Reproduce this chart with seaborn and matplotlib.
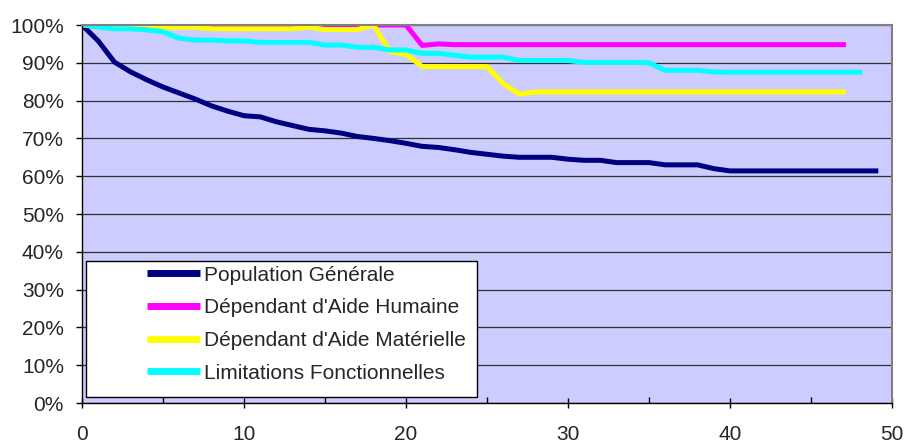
import pandas as pd
import matplotlib
matplotlib.use('Agg')
import matplotlib.pyplot as plt
import matplotlib.ticker as mticker
from matplotlib.patches import Rectangle
import seaborn as sns

sns.set_style('white')
plt.rcParams['font.family'] = ['Liberation Sans', 'DejaVu Sans']

# survival curves, values in % (x = 0, 1, 2, ...)
pop_generale = [100, 95.8, 90.2, 87.6, 85.5, 83.6, 82.0, 80.4, 78.6, 77.2,
                76.0, 75.7, 74.4, 73.4, 72.4, 72.0, 71.4, 70.5, 70.0, 69.4,
                68.7, 67.9, 67.6, 67.0, 66.3, 65.8, 65.3, 65.0, 65.0, 65.0,
                64.5, 64.2, 64.2, 63.6, 63.6, 63.6, 63.0, 63.0, 63.0, 62.0,
                61.4, 61.4, 61.4, 61.4, 61.4, 61.4, 61.4, 61.4, 61.4, 61.4]
aide_humaine = [100, 100, 100, 100, 100, 100, 100, 100, 100, 100,
                100, 100, 100, 100, 100, 100, 100, 100, 100, 100,
                100, 94.6, 95.0, 94.8, 94.8, 94.8, 94.8, 94.8, 94.8, 94.8,
                94.8, 94.8, 94.8, 94.8, 94.8, 94.8, 94.8, 94.8, 94.8, 94.8,
                94.8, 94.8, 94.8, 94.8, 94.8, 94.8, 94.8, 94.8]
aide_materielle = [100, 100, 100, 100, 100, 99.4, 99.4, 99.4, 99.0, 99.0,
                   99.0, 99.0, 99.0, 99.0, 99.4, 98.8, 98.8, 98.8, 100, 93.0,
                   92.2, 89.0, 89.0, 89.0, 89.0, 89.0, 84.5, 81.7, 82.3, 82.3,
                   82.3, 82.3, 82.3, 82.3, 82.3, 82.3, 82.3, 82.3, 82.3, 82.3,
                   82.3, 82.3, 82.3, 82.3, 82.3, 82.3, 82.3, 82.3]
limitations = [100, 99.5, 99.0, 99.0, 98.7, 98.2, 96.5, 96.0, 96.0, 95.8,
               95.8, 95.4, 95.4, 95.4, 95.4, 94.7, 94.7, 94.1, 94.1, 93.4,
               93.4, 92.5, 92.5, 92.0, 91.5, 91.5, 91.5, 90.6, 90.6, 90.6,
               90.6, 90.1, 90.1, 90.1, 90.1, 90.0, 88.0, 88.0, 88.0, 87.6,
               87.5, 87.5, 87.5, 87.5, 87.5, 87.5, 87.5, 87.5, 87.5]

series_names = ['Population Générale', "Dépendant d'Aide Humaine",
                "Dépendant d'Aide Matérielle", 'Limitations Fonctionnelles']
series_values = [pop_generale, aide_humaine, aide_materielle, limitations]
colors = ['#000080', '#FF00FF', '#FFFF00', '#00FFFF']

rows = []
for name, vals in zip(series_names, series_values):
    for t, v in enumerate(vals):
        rows.append({'t': t, 'pct': v, 'groupe': name})
df = pd.DataFrame(rows)

fig = plt.figure(figsize=(9.08, 4.44), dpi=100)
ax = fig.add_axes([82 / 908, 1 - 403 / 444, 810 / 908, 378 / 444])
ax.set_facecolor('#CCCCFF')

sns.lineplot(data=df, x='t', y='pct', hue='groupe', hue_order=series_names,
             palette=dict(zip(series_names, colors)), linewidth=3.6, ax=ax,
             legend=True, solid_joinstyle='round', solid_capstyle='projecting')

ax.set_xlim(0, 50)
ax.set_ylim(0, 100)
ax.set_xlabel('')
ax.set_ylabel('')
ax.xaxis.set_major_locator(mticker.MultipleLocator(10))
ax.xaxis.set_minor_locator(mticker.MultipleLocator(5))
ax.yaxis.set_major_locator(mticker.MultipleLocator(10))
ax.yaxis.set_major_formatter(mticker.FuncFormatter(lambda v, p: f'{v:.0f}%'))
ax.yaxis.grid(True, color='#303030', linewidth=0.9)
ax.set_axisbelow(True)

ax.tick_params(axis='x', which='major', direction='inout', length=7, width=1,
               labelsize=15, pad=12, color='black', bottom=True)
ax.tick_params(axis='x', which='minor', direction='in', length=4, width=1,
               color='black', bottom=True)
ax.tick_params(axis='y', which='major', direction='out', length=4, width=1,
               labelsize=15, pad=9, color='black', left=True)

for side in ['left', 'bottom']:
    ax.spines[side].set_color('black')
    ax.spines[side].set_linewidth(1)
for side in ['top', 'right']:
    ax.spines[side].set_color('#808080')
    ax.spines[side].set_linewidth(1.5)

# legend box (white, black edge) with the entries inside
box = Rectangle((4 / 810, 6 / 378), 391 / 810, 136 / 378, transform=ax.transAxes,
                facecolor='white', edgecolor='black', linewidth=1, zorder=5)
ax.add_patch(box)
handles, labels = ax.get_legend_handles_labels()
for h in handles:
    h.set_linewidth(5)
    h.set_solid_capstyle('butt')
leg = ax.legend(handles, labels, loc='upper left',
                bbox_to_anchor=(65 / 810, 137.5 / 378), frameon=False,
                fontsize=15, handlelength=2.55, handletextpad=0.2,
                labelspacing=0.66, borderpad=0, borderaxespad=0)
leg.set_zorder(6)

fig.savefig('out.png', dpi=100)
